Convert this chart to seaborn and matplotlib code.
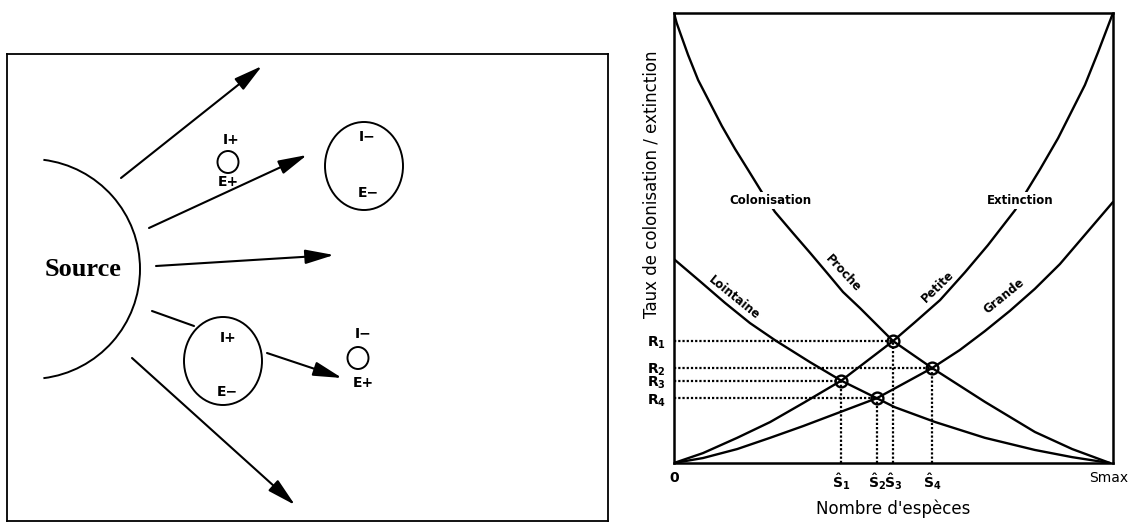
import matplotlib
matplotlib.use("Agg")
import matplotlib.pyplot as plt
from matplotlib.patches import Arc, Ellipse
import seaborn as sns

# --- courbes (x : fraction de Smax, y : fraction de la hauteur) ---
proche_x = [0.000, 0.006, 0.014, 0.032, 0.055, 0.082, 0.109, 0.139, 0.169, 0.200, 0.230, 0.271,
            0.310, 0.349, 0.385, 0.424, 0.462, 0.499, 0.588, 0.708, 0.822, 0.907, 0.993]
proche_y = [1.000, 0.978, 0.956, 0.907, 0.851, 0.800, 0.749, 0.698, 0.651, 0.602, 0.558, 0.511,
            0.467, 0.422, 0.380, 0.344, 0.307, 0.271, 0.211, 0.136, 0.069, 0.031, 0.000]

lointaine_x = [0.000, 0.059, 0.116, 0.173, 0.230, 0.310, 0.381, 0.462, 0.503, 0.595,
               0.708, 0.822, 0.907, 0.993]
lointaine_y = [0.453, 0.404, 0.356, 0.311, 0.273, 0.224, 0.183, 0.144, 0.124, 0.091,
               0.056, 0.029, 0.013, 0.000]

petite_x = [0.000, 0.066, 0.144, 0.219, 0.294, 0.381, 0.440, 0.499, 0.549, 0.606,
            0.663, 0.715, 0.777, 0.834, 0.875, 0.936, 0.966, 1.000]
petite_y = [0.000, 0.022, 0.056, 0.091, 0.133, 0.183, 0.227, 0.271, 0.313, 0.362,
            0.424, 0.484, 0.562, 0.653, 0.722, 0.840, 0.913, 1.000]

grande_x = [0.000, 0.066, 0.144, 0.219, 0.294, 0.378, 0.462, 0.526, 0.588, 0.651,
            0.708, 0.765, 0.822, 0.879, 0.936, 1.000]
grande_y = [0.000, 0.011, 0.031, 0.056, 0.082, 0.113, 0.144, 0.178, 0.211, 0.251,
            0.293, 0.338, 0.387, 0.442, 0.507, 0.580]

# equilibres (S^, R)
eq_s = [0.381, 0.462, 0.499, 0.588]
eq_r = [0.183, 0.144, 0.271, 0.211]
r_labels = [r"$\mathbf{R_1}$", r"$\mathbf{R_2}$", r"$\mathbf{R_3}$", r"$\mathbf{R_4}$"]
r_values = [0.271, 0.211, 0.183, 0.144]
s_labels = ["0", r"$\mathbf{\hat{S}_1}$", r"$\mathbf{\hat{S}_2}$", r"$\mathbf{\hat{S}_3}$",
            r"$\mathbf{\hat{S}_4}$", "Smax"]
s_values = [0.0, 0.381, 0.462, 0.499, 0.588, 0.99]

# --- schema de gauche (coordonnees du cadre) ---
arrow_tail = [(121, 178), (149, 228), (156, 266), (267, 353), (132, 358)]
arrow_head = [(262, 66), (307, 155), (334, 255), (342, 378), (295, 505)]
seg_tail = (152, 311)
seg_head = (194, 326)
iles = [(228, 162, 10.5, 11), (364, 166, 39, 44), (223, 361, 39, 44), (358, 358, 10.5, 11)]
ile_txt = [("I+", 231, 140), ("E+", 228, 182), ("I−", 367, 137), ("E−", 368, 193),
           ("I+", 228, 338), ("E−", 227, 392), ("I−", 363, 334), ("E+", 363, 383)]

sns.set_theme(style="white", rc={"axes.edgecolor": "black", "axes.linewidth": 1.8,
                                 "text.color": "black", "axes.labelcolor": "black",
                                 "xtick.color": "black", "ytick.color": "black"})
plt.rcParams["font.family"] = ["DejaVu Sans"]
plt.rcParams["mathtext.fontset"] = "dejavusans"

fig = plt.figure(figsize=(11.29, 5.24), dpi=100)

# ---------- panneau gauche ----------
ax0 = fig.add_axes([7 / 1129, 3 / 524, 601 / 1129, 467 / 524])
ax0.set_xlim(7, 608)
ax0.set_ylim(521, 54)
ax0.set_xticks([])
ax0.set_yticks([])
for sp in ax0.spines.values():
    sp.set_linewidth(1.3)

ax0.add_patch(Arc((30, 269), 220, 220, theta1=-83, theta2=83, color="black", lw=1.4))
ax0.text(83, 270, "Source", family="Liberation Serif", fontsize=19, fontweight="bold",
         ha="center", va="center")

for t, h in zip(arrow_tail, arrow_head):
    ax0.annotate("", xy=h, xytext=t,
                 arrowprops=dict(arrowstyle="-|>,head_length=1.6,head_width=0.4",
                                 mutation_scale=11, color="black", lw=1.5,
                                 shrinkA=0, shrinkB=0))
ax0.plot([seg_tail[0], seg_head[0]], [seg_tail[1], seg_head[1]], color="black", lw=1.5)

for cx, cy, rx, ry in iles:
    ax0.add_patch(Ellipse((cx, cy), 2 * rx, 2 * ry, fill=False, ec="black", lw=1.4))
for txt, tx, ty in ile_txt:
    ax0.text(tx, ty, txt, fontsize=10, fontweight="bold", ha="center", va="center")

# ---------- panneau droit ----------
ax = fig.add_axes([674 / 1129, 61 / 524, 439 / 1129, 450 / 524])
for xs, ys in [(proche_x, proche_y), (lointaine_x, lointaine_y),
               (petite_x, petite_y), (grande_x, grande_y)]:
    sns.lineplot(x=xs, y=ys, sort=False, estimator=None, color="black", linewidth=1.7, ax=ax)

for s, r in zip(eq_s, eq_r):
    ax.plot([0, s], [r, r], color="black", lw=1.6, ls=(0, (1, 0.9)))
    ax.plot([s, s], [0, r], color="black", lw=1.6, ls=(0, (1, 0.9)))
ax.plot(eq_s, eq_r, "o", mfc="none", mec="black", ms=8.5, mew=1.7)

ax.set_xlim(0, 1)
ax.set_ylim(0, 1)
ax.set_xticks(s_values, s_labels)
ax.set_yticks(r_values, r_labels)
ax.tick_params(length=0)
ax.tick_params(axis="x", pad=6, labelsize=10)
ax.tick_params(axis="y", pad=6, labelsize=10)
for lab in ax.get_xticklabels():
    lab.set_fontweight("bold")
ax.get_xticklabels()[-1].set_fontweight("normal")

ax.set_xlabel("Nombre d'espèces", fontsize=12)
ax.xaxis.set_label_coords(0.5, -0.082)
ax.set_ylabel("Taux de colonisation / extinction", fontsize=12)
ax.yaxis.set_label_coords(-0.03, 0.62)

box = dict(fc="white", ec="none", pad=1.5)
ax.text(0.219, 0.584, "Colonisation", fontsize=8.5, fontweight="bold",
        ha="center", va="center", bbox=box)
ax.text(0.788, 0.584, "Extinction", fontsize=8.5, fontweight="bold",
        ha="center", va="center", bbox=box)
ax.text(0.385, 0.422, "Proche", fontsize=8.5, fontweight="bold",
        ha="center", va="center", rotation=-47)
ax.text(0.137, 0.367, "Lointaine", fontsize=8.5, fontweight="bold",
        ha="center", va="center", rotation=-39)
ax.text(0.601, 0.391, "Petite", fontsize=8.5, fontweight="bold",
        ha="center", va="center", rotation=44)
ax.text(0.752, 0.371, "Grande", fontsize=8.5, fontweight="bold",
        ha="center", va="center", rotation=39)

fig.savefig("out.png", dpi=100, facecolor="white")
